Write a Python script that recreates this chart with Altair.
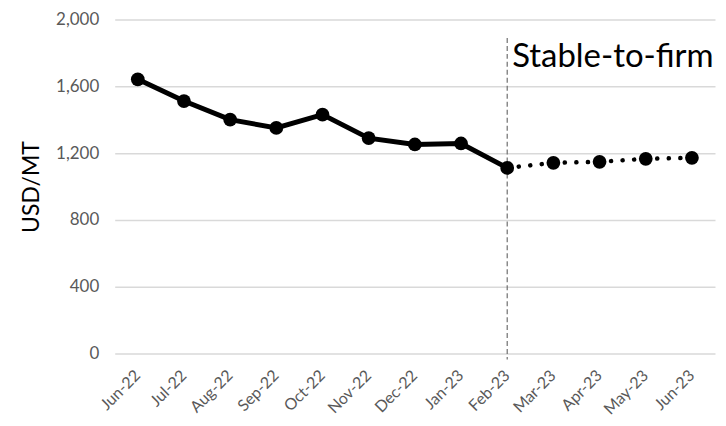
import altair as alt
import pandas as pd

months = ["Jun-22", "Jul-22", "Aug-22", "Sep-22", "Oct-22", "Nov-22", "Dec-22",
          "Jan-23", "Feb-23", "Mar-23", "Apr-23", "May-23", "Jun-23"]
values = [1642, 1512, 1401, 1351, 1431, 1290, 1252, 1258, 1112, 1142, 1148, 1166, 1172]
actual_months = months[:9]
forecast_months = months[8:]
annotation_text = "Stable-to-firm"
annotation_month = "Feb-23"

df = pd.DataFrame({"month": months, "value": values})
df_actual = df[df["month"].isin(actual_months)]
df_fore = df[df["month"].isin(forecast_months)]

FONT = "Lato"

x = alt.X("month:N", sort=months, title=None,
          scale=alt.Scale(domain=months, paddingInner=0, paddingOuter=0),
          axis=alt.Axis(labelAngle=-45, labelFontSize=16, labelColor="#595959",
                        labelFont=FONT, ticks=False, domain=False, grid=False,
                        labelPadding=19))
y = alt.Y("value:Q", title="USD/MT",
          scale=alt.Scale(domain=[0, 2000], nice=False),
          axis=alt.Axis(values=[0, 400, 800, 1200, 1600, 2000], format=",.0f",
                        labelFontSize=17, labelColor="#595959", labelFont=FONT,
                        titleFont=FONT, titleFontSize=23, titleFontWeight="normal",
                        titleColor="#000000", titlePadding=12,
                        ticks=False, domain=False, grid=True,
                        gridColor="#d9d9d9", gridWidth=1.5, labelPadding=16))

base = alt.Chart(df)

line_actual = alt.Chart(df_actual).mark_line(color="black", strokeWidth=5).encode(x=x, y=y)
line_fore = alt.Chart(df_fore).mark_line(color="black", strokeWidth=4.5, strokeCap="round",
                                         strokeDash=[0.1, 11.5]).encode(x=x, y=y)
points = base.mark_point(filled=True, color="black", size=190, opacity=1).encode(x=x, y=y)

ann_df = pd.DataFrame({"month": [annotation_month], "top": [1890], "bottom": [-35],
                       "label": [annotation_text], "ty": [1713]})
rule = alt.Chart(ann_df).mark_rule(color="#6f6f6f", strokeWidth=1.2, strokeDash=[5, 3]).encode(
    x=alt.X("month:N", sort=months), y=alt.Y("top:Q"), y2="bottom:Q")
text = alt.Chart(ann_df).mark_text(align="left", baseline="alphabetic", dx=5, fontSize=33,
                                   font=FONT, color="black").encode(
    x=alt.X("month:N", sort=months), y=alt.Y("ty:Q"), text="label:N")

chart = alt.layer(rule, line_actual, line_fore, points, text).properties(
    width=602, height=335,
    padding={"left": 107, "top": 11, "right": 3, "bottom": 70},
    autosize=alt.AutoSizeParams(type="none"),
).configure_view(stroke=None).configure_axis(labelFont=FONT)

chart.save("out.html", embed_options={"renderer": "svg", "actions": False})
